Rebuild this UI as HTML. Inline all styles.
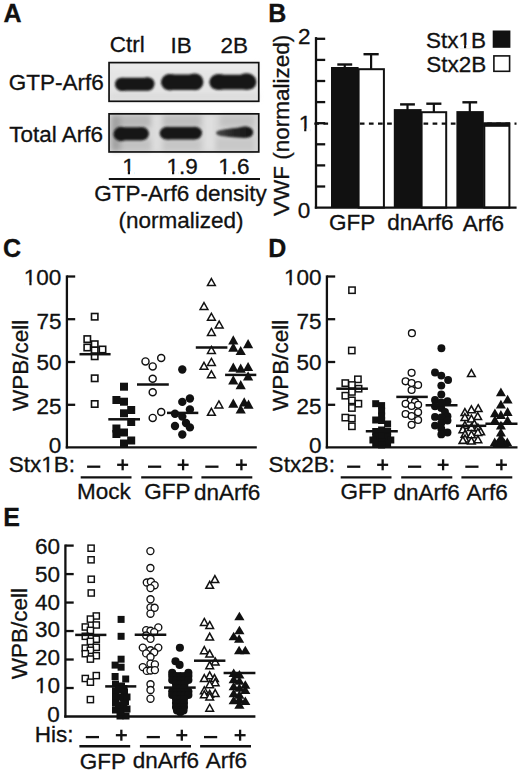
<!DOCTYPE html>
<html><head><meta charset="utf-8"><style>
html,body{margin:0;padding:0;background:#fff;width:520px;height:770px;overflow:hidden}
svg{display:block}
text{font-family:"Liberation Sans",sans-serif}
</style></head><body>
<svg width="520" height="770" viewBox="0 0 520 770">
<rect width="520" height="770" fill="#fff"/>
<defs><filter id="bl" x="-20%" y="-50%" width="140%" height="200%"><feGaussianBlur stdDeviation="1.0"/></filter><filter id="bl2" x="-30%" y="-30%" width="160%" height="160%"><feGaussianBlur stdDeviation="2.5"/></filter><linearGradient id="g3" x1="0" x2="1" y1="0" y2="0"><stop offset="0" stop-color="#4a4a4a"/><stop offset="0.45" stop-color="#262626"/><stop offset="1" stop-color="#131313"/></linearGradient></defs>
<g font-family="Liberation Sans, sans-serif" fill="#111" stroke-linejoin="miter">
<text transform="translate(3.42,21.98) scale(0.9700,1)" font-size="25.8" font-weight="bold" stroke="#111" stroke-width="0.3">A</text>
<text transform="translate(268.22,21.85) scale(0.9700,1)" font-size="25.8" font-weight="bold" stroke="#111" stroke-width="0.3">B</text>
<text transform="translate(3.12,257.30) scale(0.9700,1)" font-size="25.8" font-weight="bold" stroke="#111" stroke-width="0.3">C</text>
<text transform="translate(268.37,257.45) scale(0.9700,1)" font-size="25.8" font-weight="bold" stroke="#111" stroke-width="0.3">D</text>
<text transform="translate(3.19,526.05) scale(0.9700,1)" font-size="25.8" font-weight="bold" stroke="#111" stroke-width="0.3">E</text>
<text transform="translate(109.72,52.35) scale(1.0000,1)" font-size="22.5" font-weight="normal" stroke="#111" stroke-width="0.3">Ctrl</text>
<text transform="translate(170.62,52.76) scale(1.0000,1)" font-size="22.5" font-weight="normal" stroke="#111" stroke-width="0.3">IB</text>
<text transform="translate(220.47,52.88) scale(1.0000,1)" font-size="22.5" font-weight="normal" stroke="#111" stroke-width="0.3">2B</text>
<text transform="translate(8.86,90.35) scale(1.0000,1)" font-size="22.5" font-weight="normal" stroke="#111" stroke-width="0.3">GTP-Arf6</text>
<text transform="translate(9.23,141.55) scale(1.0000,1)" font-size="22.5" font-weight="normal" stroke="#111" stroke-width="0.3">Total Arf6</text>
<rect x="109.05" y="62.6" width="149.7" height="38.7" fill="#e5e5e5"/>
<g filter="url(#bl2)"><rect x="110" y="93" width="148" height="7" fill="#dcdcdc"/><rect x="110" y="64" width="148" height="5" fill="#ececec"/></g>
<g filter="url(#bl)" fill="#151515"><rect x="115.2" y="77.8" width="39" height="13" rx="6.2"/><ellipse cx="122.5" cy="84.4" rx="7.3" ry="6.6"/><ellipse cx="147.5" cy="83.5" rx="7" ry="6.3"/><rect x="161.2" y="74.6" width="42" height="15.4" rx="7.5"/><ellipse cx="170" cy="82.2" rx="8.8" ry="8.2"/><ellipse cx="194.5" cy="81.8" rx="8.8" ry="8.4"/><rect x="209.5" y="74.8" width="46.7" height="14.7" rx="7.2"/><ellipse cx="219" cy="82" rx="9.5" ry="7.9"/><ellipse cx="246.5" cy="81.5" rx="9.8" ry="8.3"/></g>
<rect x="109.05" y="62.6" width="149.7" height="38.7" fill="none" stroke="#111" stroke-width="1.7"/>
<rect x="109.05" y="113.85" width="149.7" height="38.1" fill="#d6d6d6"/>
<g filter="url(#bl2)"><rect x="111" y="115" width="10" height="36" fill="#8c8c8c" opacity="0.7"/><rect x="121" y="115" width="30" height="12" fill="#b8b8b8"/><rect x="163" y="115" width="38" height="12" fill="#bdbdbd"/><rect x="220" y="115" width="34" height="12" fill="#c2c2c2"/><rect x="121" y="139" width="30" height="12" fill="#c2c2c2"/><rect x="163" y="139" width="38" height="12" fill="#c6c6c6"/><rect x="216" y="138" width="38" height="13" fill="#c8c8c8"/><rect x="153" y="115" width="7" height="36" fill="#dedede"/><rect x="205" y="115" width="9" height="36" fill="#e0e0e0"/></g>
<g filter="url(#bl)" fill="#141414"><ellipse cx="121" cy="134" rx="7.6" ry="7.2"/><ellipse cx="142" cy="133.6" rx="7" ry="6.6"/><rect x="121" y="127.2" width="21" height="13.2"/><ellipse cx="167" cy="133.2" rx="7.3" ry="6.4"/><ellipse cx="195" cy="133" rx="7" ry="6.3"/><rect x="167" y="126.9" width="28" height="12.6"/></g>
<g filter="url(#bl)"><path fill="url(#g3)" d="M216,133 C216,129.6 226,128.9 236,127.9 L244,126.6 C250,126.3 253.2,129 253.2,132.3 C253.2,136 250,138.3 244,138 L236,137.4 C226,136.7 216,136.3 216,133 Z"/></g>
<rect x="109.05" y="113.85" width="149.7" height="38.1" fill="none" stroke="#111" stroke-width="1.7"/>
<g transform="translate(122.31,173.96) scale(1.0000,1)"><text font-size="22.5" font-weight="normal" stroke="#111" stroke-width="0.3">1</text><rect x="0.67" y="-2.65" width="4.84" height="3.78" fill="#fff"/><rect x="7.70" y="-2.65" width="4.50" height="3.78" fill="#fff"/></g>
<g transform="translate(166.51,173.96) scale(1.0000,1)"><text font-size="22.5" font-weight="normal" stroke="#111" stroke-width="0.3">1.9</text><rect x="0.67" y="-2.65" width="4.84" height="3.78" fill="#fff"/><rect x="7.70" y="-2.65" width="4.50" height="3.78" fill="#fff"/></g>
<g transform="translate(218.24,173.96) scale(1.0000,1)"><text font-size="22.5" font-weight="normal" stroke="#111" stroke-width="0.3">1.6</text><rect x="0.67" y="-2.65" width="4.84" height="3.78" fill="#fff"/><rect x="7.70" y="-2.65" width="4.50" height="3.78" fill="#fff"/></g>
<line x1="108.80" y1="179.00" x2="260.00" y2="179.00" stroke="#111" stroke-width="2.2" />
<text transform="translate(94.20,201.45) scale(1.0000,1)" font-size="22.5" font-weight="normal" stroke="#111" stroke-width="0.3">GTP-Arf6 density</text>
<text transform="translate(118.50,227.85) scale(1.0000,1)" font-size="22.5" font-weight="normal" stroke="#111" stroke-width="0.3">(normalized)</text>
<line x1="316.00" y1="37.10" x2="316.00" y2="208.60" stroke="#111" stroke-width="2.3" />
<line x1="316.00" y1="186.50" x2="325.20" y2="186.50" stroke="#111" stroke-width="2.3" />
<line x1="316.00" y1="165.40" x2="325.20" y2="165.40" stroke="#111" stroke-width="2.3" />
<line x1="316.00" y1="144.30" x2="325.20" y2="144.30" stroke="#111" stroke-width="2.3" />
<line x1="316.00" y1="123.20" x2="325.20" y2="123.20" stroke="#111" stroke-width="2.3" />
<line x1="316.00" y1="102.10" x2="325.20" y2="102.10" stroke="#111" stroke-width="2.3" />
<line x1="316.00" y1="81.00" x2="325.20" y2="81.00" stroke="#111" stroke-width="2.3" />
<line x1="316.00" y1="59.90" x2="325.20" y2="59.90" stroke="#111" stroke-width="2.3" />
<line x1="316.00" y1="38.80" x2="325.20" y2="38.80" stroke="#111" stroke-width="2.3" />
<text transform="translate(297.90,44.23) scale(1.0000,1)" font-size="22.5" font-weight="normal" stroke="#111" stroke-width="0.3">2</text>
<g transform="translate(298.66,131.31) scale(1.0000,1)"><text font-size="22.5" font-weight="normal" stroke="#111" stroke-width="0.3">1</text><rect x="0.67" y="-2.65" width="4.84" height="3.78" fill="#fff"/><rect x="7.70" y="-2.65" width="4.50" height="3.78" fill="#fff"/></g>
<text transform="translate(297.85,218.01) scale(1.0000,1)" font-size="22.5" font-weight="normal" stroke="#111" stroke-width="0.3">0</text>
<text transform="translate(289.05,216.05) rotate(-90) scale(1.0000,1)" font-size="22.5" stroke="#111" stroke-width="0.3">VWF (normalized)</text>
<line x1="314.30" y1="123.60" x2="516.50" y2="123.60" stroke="#111" stroke-width="2.2" stroke-dasharray="4.7 4.4"/>
<line x1="344.75" y1="64.50" x2="344.75" y2="68.00" stroke="#111" stroke-width="2.2" />
<line x1="337.30" y1="64.50" x2="352.20" y2="64.50" stroke="#111" stroke-width="2.4" />
<rect x="331" y="67" width="27.60" height="140.60" fill="#111"/>
<line x1="371.10" y1="54.20" x2="371.10" y2="69.20" stroke="#111" stroke-width="2.2" />
<line x1="363.50" y1="54.20" x2="378.70" y2="54.20" stroke="#111" stroke-width="2.4" />
<rect x="358.6" y="69.2" width="25.30" height="138.40" fill="none" stroke="#111" stroke-width="2"/>
<line x1="407.50" y1="104.40" x2="407.50" y2="110.10" stroke="#111" stroke-width="2.2" />
<line x1="400.10" y1="104.40" x2="414.90" y2="104.40" stroke="#111" stroke-width="2.4" />
<rect x="393.8" y="109.1" width="27.80" height="98.50" fill="#111"/>
<line x1="433.85" y1="103.70" x2="433.85" y2="112.20" stroke="#111" stroke-width="2.2" />
<line x1="426.30" y1="103.70" x2="441.40" y2="103.70" stroke="#111" stroke-width="2.4" />
<rect x="421.6" y="112.2" width="24.60" height="95.40" fill="none" stroke="#111" stroke-width="2"/>
<line x1="469.80" y1="102.30" x2="469.80" y2="112.10" stroke="#111" stroke-width="2.2" />
<line x1="462.40" y1="102.30" x2="477.20" y2="102.30" stroke="#111" stroke-width="2.4" />
<rect x="456.4" y="111.1" width="27.40" height="96.50" fill="#111"/>
<rect x="484.3" y="123.5" width="25.1" height="84.1" fill="none" stroke="#111" stroke-width="2"/>
<rect x="483.3" y="122.5" width="26.6" height="4.3" fill="#111"/>
<line x1="314.80" y1="207.60" x2="516.60" y2="207.60" stroke="#111" stroke-width="2.4" />
<text transform="translate(328.89,229.86) scale(1.0000,1)" font-size="22.5" font-weight="normal" stroke="#111" stroke-width="0.3">GFP</text>
<text transform="translate(387.18,230.00) scale(1.0000,1)" font-size="22.5" font-weight="normal" stroke="#111" stroke-width="0.3">dnArf6</text>
<text transform="translate(462.86,230.50) scale(1.0000,1)" font-size="22.5" font-weight="normal" stroke="#111" stroke-width="0.3">Arf6</text>
<g transform="translate(425.97,47.61) scale(1.0000,1)"><text font-size="22.5" font-weight="normal" stroke="#111" stroke-width="0.3">Stx1B</text><rect x="33.19" y="-2.65" width="4.84" height="3.78" fill="#fff"/><rect x="40.21" y="-2.65" width="4.50" height="3.78" fill="#fff"/></g>
<text transform="translate(426.22,71.81) scale(1.0000,1)" font-size="22.5" font-weight="normal" stroke="#111" stroke-width="0.3">Stx2B</text>
<rect x="492.7" y="30.5" width="17.7" height="17.3" fill="#111"/>
<rect x="493.9" y="55.9" width="15.7" height="15.4" fill="#fff" stroke="#111" stroke-width="1.6"/>
<line x1="66.90" y1="275.40" x2="66.90" y2="448.40" stroke="#111" stroke-width="2.3" />
<line x1="66.90" y1="276.50" x2="75.20" y2="276.50" stroke="#111" stroke-width="2.3" />
<line x1="66.90" y1="319.20" x2="75.20" y2="319.20" stroke="#111" stroke-width="2.3" />
<line x1="66.90" y1="362.00" x2="75.20" y2="362.00" stroke="#111" stroke-width="2.3" />
<line x1="66.90" y1="404.80" x2="75.20" y2="404.80" stroke="#111" stroke-width="2.3" />
<g transform="translate(23.83,285.06) scale(1.0000,1)"><text font-size="22.5" font-weight="normal" stroke="#111" stroke-width="0.3">100</text><rect x="0.67" y="-2.65" width="4.84" height="3.78" fill="#fff"/><rect x="7.70" y="-2.65" width="4.50" height="3.78" fill="#fff"/></g>
<text transform="translate(36.42,328.95) scale(1.0000,1)" font-size="22.5" font-weight="normal" stroke="#111" stroke-width="0.3">75</text>
<text transform="translate(36.42,369.86) scale(1.0000,1)" font-size="22.5" font-weight="normal" stroke="#111" stroke-width="0.3">50</text>
<text transform="translate(36.42,413.76) scale(1.0000,1)" font-size="22.5" font-weight="normal" stroke="#111" stroke-width="0.3">25</text>
<text transform="translate(48.80,452.76) scale(1.0000,1)" font-size="22.5" font-weight="normal" stroke="#111" stroke-width="0.3">0</text>
<line x1="65.75" y1="447.30" x2="256.80" y2="447.30" stroke="#111" stroke-width="2.3" />
<text transform="translate(28.00,411.10) rotate(-90) scale(1.0000,1)" font-size="22.5" stroke="#111" stroke-width="0.3">WPB/cell</text>
<rect x="91.50" y="313.50" width="6.40" height="6.40" fill="#fff" stroke="#111" stroke-width="1.6"/>
<rect x="84.10" y="335.90" width="6.40" height="6.40" fill="#fff" stroke="#111" stroke-width="1.6"/>
<rect x="91.50" y="341.00" width="6.40" height="6.40" fill="#fff" stroke="#111" stroke-width="1.6"/>
<rect x="84.10" y="344.30" width="6.40" height="6.40" fill="#fff" stroke="#111" stroke-width="1.6"/>
<rect x="99.30" y="346.30" width="6.40" height="6.40" fill="#fff" stroke="#111" stroke-width="1.6"/>
<rect x="91.50" y="347.20" width="6.40" height="6.40" fill="#fff" stroke="#111" stroke-width="1.6"/>
<rect x="91.50" y="353.10" width="6.40" height="6.40" fill="#fff" stroke="#111" stroke-width="1.6"/>
<rect x="91.50" y="375.10" width="6.40" height="6.40" fill="#fff" stroke="#111" stroke-width="1.6"/>
<rect x="91.50" y="400.80" width="6.40" height="6.40" fill="#fff" stroke="#111" stroke-width="1.6"/>
<line x1="79.50" y1="354.20" x2="110.60" y2="354.20" stroke="#111" stroke-width="2.5" />
<rect x="120.00" y="382.70" width="8.00" height="8.00" fill="#111"/>
<rect x="112.40" y="396.00" width="8.00" height="8.00" fill="#111"/>
<rect x="120.00" y="397.70" width="8.00" height="8.00" fill="#111"/>
<rect x="127.20" y="406.00" width="8.00" height="8.00" fill="#111"/>
<rect x="120.00" y="409.30" width="8.00" height="8.00" fill="#111"/>
<rect x="127.20" y="418.00" width="8.00" height="8.00" fill="#111"/>
<rect x="112.40" y="424.50" width="8.00" height="8.00" fill="#111"/>
<rect x="120.00" y="428.50" width="8.00" height="8.00" fill="#111"/>
<rect x="112.40" y="430.00" width="8.00" height="8.00" fill="#111"/>
<rect x="127.20" y="436.50" width="8.00" height="8.00" fill="#111"/>
<rect x="120.00" y="439.50" width="8.00" height="8.00" fill="#111"/>
<line x1="108.30" y1="419.30" x2="140.00" y2="419.30" stroke="#111" stroke-width="2.5" />
<circle cx="145.50" cy="361.40" r="3.52" fill="#fff" stroke="#111" stroke-width="1.45"/>
<circle cx="152.70" cy="366.40" r="3.52" fill="#fff" stroke="#111" stroke-width="1.45"/>
<circle cx="161.20" cy="358.00" r="3.52" fill="#fff" stroke="#111" stroke-width="1.45"/>
<circle cx="152.70" cy="378.80" r="3.52" fill="#fff" stroke="#111" stroke-width="1.45"/>
<circle cx="152.70" cy="392.30" r="3.52" fill="#fff" stroke="#111" stroke-width="1.45"/>
<circle cx="152.70" cy="417.90" r="3.52" fill="#fff" stroke="#111" stroke-width="1.45"/>
<circle cx="161.20" cy="412.00" r="3.52" fill="#fff" stroke="#111" stroke-width="1.45"/>
<line x1="137.00" y1="384.50" x2="168.80" y2="384.50" stroke="#111" stroke-width="2.5" />
<circle cx="182.30" cy="369.50" r="4.20" fill="#111"/>
<circle cx="189.90" cy="398.50" r="4.20" fill="#111"/>
<circle cx="182.30" cy="401.90" r="4.20" fill="#111"/>
<circle cx="189.90" cy="409.50" r="4.20" fill="#111"/>
<circle cx="175.00" cy="413.70" r="4.20" fill="#111"/>
<circle cx="182.30" cy="416.60" r="4.20" fill="#111"/>
<circle cx="186.00" cy="423.00" r="4.20" fill="#111"/>
<circle cx="175.00" cy="426.00" r="4.20" fill="#111"/>
<circle cx="189.90" cy="427.40" r="4.20" fill="#111"/>
<circle cx="182.30" cy="434.50" r="4.20" fill="#111"/>
<line x1="167.00" y1="412.90" x2="198.30" y2="412.90" stroke="#111" stroke-width="2.5" />
<polygon points="211.40,278.57 215.31,285.50 207.49,285.50" fill="#fff" stroke="#111" stroke-width="1.5"/>
<polygon points="204.00,302.57 207.91,309.50 200.09,309.50" fill="#fff" stroke="#111" stroke-width="1.5"/>
<polygon points="211.40,313.27 215.31,320.20 207.49,320.20" fill="#fff" stroke="#111" stroke-width="1.5"/>
<polygon points="219.20,321.07 223.11,328.00 215.29,328.00" fill="#fff" stroke="#111" stroke-width="1.5"/>
<polygon points="211.40,328.47 215.31,335.40 207.49,335.40" fill="#fff" stroke="#111" stroke-width="1.5"/>
<polygon points="211.40,346.47 215.31,353.40 207.49,353.40" fill="#fff" stroke="#111" stroke-width="1.5"/>
<polygon points="211.40,358.47 215.31,365.40 207.49,365.40" fill="#fff" stroke="#111" stroke-width="1.5"/>
<polygon points="204.00,362.37 207.91,369.30 200.09,369.30" fill="#fff" stroke="#111" stroke-width="1.5"/>
<polygon points="211.40,370.77 215.31,377.70 207.49,377.70" fill="#fff" stroke="#111" stroke-width="1.5"/>
<polygon points="218.90,400.97 222.81,407.90 214.99,407.90" fill="#fff" stroke="#111" stroke-width="1.5"/>
<polygon points="211.40,408.37 215.31,415.30 207.49,415.30" fill="#fff" stroke="#111" stroke-width="1.5"/>
<line x1="195.80" y1="347.60" x2="227.40" y2="347.60" stroke="#111" stroke-width="2.5" />
<polygon points="233.30,335.20 238.40,344.40 228.20,344.40" fill="#111"/>
<polygon points="248.10,339.10 253.20,348.30 243.00,348.30" fill="#111"/>
<polygon points="233.30,342.60 238.40,351.80 228.20,351.80" fill="#111"/>
<polygon points="240.70,345.90 245.80,355.10 235.60,355.10" fill="#111"/>
<polygon points="233.30,362.50 238.40,371.70 228.20,371.70" fill="#111"/>
<polygon points="240.70,363.50 245.80,372.70 235.60,372.70" fill="#111"/>
<polygon points="248.10,361.90 253.20,371.10 243.00,371.10" fill="#111"/>
<polygon points="248.10,371.30 253.20,380.50 243.00,380.50" fill="#111"/>
<polygon points="233.30,375.20 238.40,384.40 228.20,384.40" fill="#111"/>
<polygon points="240.70,380.00 245.80,389.20 235.60,389.20" fill="#111"/>
<polygon points="233.30,398.60 238.40,407.80 228.20,407.80" fill="#111"/>
<polygon points="244.20,397.20 249.30,406.40 239.10,406.40" fill="#111"/>
<polygon points="248.50,399.50 253.60,408.70 243.40,408.70" fill="#111"/>
<polygon points="240.70,404.40 245.80,413.60 235.60,413.60" fill="#111"/>
<line x1="225.10" y1="374.90" x2="256.30" y2="374.90" stroke="#111" stroke-width="2.5" />
<g transform="translate(8.73,472.41) scale(1.0000,1)"><text font-size="22.5" font-weight="normal" stroke="#111" stroke-width="0.3">Stx1B:</text><rect x="33.19" y="-2.65" width="4.84" height="3.78" fill="#fff"/><rect x="40.21" y="-2.65" width="4.50" height="3.78" fill="#fff"/></g>
<line x1="87.10" y1="466.70" x2="100.30" y2="466.70" stroke="#111" stroke-width="2.3" />
<line x1="148.00" y1="466.70" x2="161.20" y2="466.70" stroke="#111" stroke-width="2.3" />
<line x1="205.30" y1="466.70" x2="218.50" y2="466.70" stroke="#111" stroke-width="2.3" />
<line x1="117.15" y1="464.80" x2="128.15" y2="464.80" stroke="#111" stroke-width="2.3" />
<line x1="122.65" y1="459.30" x2="122.65" y2="470.30" stroke="#111" stroke-width="2.3" />
<line x1="177.60" y1="464.80" x2="188.60" y2="464.80" stroke="#111" stroke-width="2.3" />
<line x1="183.10" y1="459.30" x2="183.10" y2="470.30" stroke="#111" stroke-width="2.3" />
<line x1="235.90" y1="464.80" x2="246.90" y2="464.80" stroke="#111" stroke-width="2.3" />
<line x1="241.40" y1="459.30" x2="241.40" y2="470.30" stroke="#111" stroke-width="2.3" />
<line x1="80.70" y1="477.40" x2="131.50" y2="477.40" stroke="#111" stroke-width="2.4" />
<line x1="141.20" y1="477.40" x2="192.30" y2="477.40" stroke="#111" stroke-width="2.4" />
<line x1="201.40" y1="477.40" x2="252.30" y2="477.40" stroke="#111" stroke-width="2.4" />
<text transform="translate(76.91,499.35) scale(1.0000,1)" font-size="22.5" font-weight="normal" stroke="#111" stroke-width="0.3">Mock</text>
<text transform="translate(144.19,499.16) scale(1.0000,1)" font-size="22.5" font-weight="normal" stroke="#111" stroke-width="0.3">GFP</text>
<text transform="translate(194.07,500.10) scale(1.0000,1)" font-size="22.5" font-weight="normal" stroke="#111" stroke-width="0.3">dnArf6</text>
<line x1="326.90" y1="275.40" x2="326.90" y2="448.40" stroke="#111" stroke-width="2.3" />
<line x1="326.90" y1="276.50" x2="335.20" y2="276.50" stroke="#111" stroke-width="2.3" />
<line x1="326.90" y1="319.20" x2="335.20" y2="319.20" stroke="#111" stroke-width="2.3" />
<line x1="326.90" y1="362.00" x2="335.20" y2="362.00" stroke="#111" stroke-width="2.3" />
<line x1="326.90" y1="404.80" x2="335.20" y2="404.80" stroke="#111" stroke-width="2.3" />
<g transform="translate(283.93,285.06) scale(1.0000,1)"><text font-size="22.5" font-weight="normal" stroke="#111" stroke-width="0.3">100</text><rect x="0.67" y="-2.65" width="4.84" height="3.78" fill="#fff"/><rect x="7.70" y="-2.65" width="4.50" height="3.78" fill="#fff"/></g>
<text transform="translate(296.52,328.95) scale(1.0000,1)" font-size="22.5" font-weight="normal" stroke="#111" stroke-width="0.3">75</text>
<text transform="translate(296.53,369.86) scale(1.0000,1)" font-size="22.5" font-weight="normal" stroke="#111" stroke-width="0.3">50</text>
<text transform="translate(296.52,413.76) scale(1.0000,1)" font-size="22.5" font-weight="normal" stroke="#111" stroke-width="0.3">25</text>
<text transform="translate(308.90,452.76) scale(1.0000,1)" font-size="22.5" font-weight="normal" stroke="#111" stroke-width="0.3">0</text>
<line x1="325.75" y1="447.30" x2="517.50" y2="447.30" stroke="#111" stroke-width="2.3" />
<text transform="translate(288.00,411.10) rotate(-90) scale(1.0000,1)" font-size="22.5" stroke="#111" stroke-width="0.3">WPB/cell</text>
<rect x="348.85" y="287.05" width="6.30" height="6.30" fill="#fff" stroke="#111" stroke-width="1.5"/>
<rect x="348.65" y="347.35" width="6.30" height="6.30" fill="#fff" stroke="#111" stroke-width="1.5"/>
<rect x="354.75" y="376.15" width="6.30" height="6.30" fill="#fff" stroke="#111" stroke-width="1.5"/>
<rect x="342.15" y="379.95" width="6.30" height="6.30" fill="#fff" stroke="#111" stroke-width="1.5"/>
<rect x="348.75" y="381.85" width="6.30" height="6.30" fill="#fff" stroke="#111" stroke-width="1.5"/>
<rect x="355.45" y="385.55" width="6.30" height="6.30" fill="#fff" stroke="#111" stroke-width="1.5"/>
<rect x="348.75" y="388.75" width="6.30" height="6.30" fill="#fff" stroke="#111" stroke-width="1.5"/>
<rect x="342.15" y="392.55" width="6.30" height="6.30" fill="#fff" stroke="#111" stroke-width="1.5"/>
<rect x="348.75" y="397.25" width="6.30" height="6.30" fill="#fff" stroke="#111" stroke-width="1.5"/>
<rect x="355.25" y="400.55" width="6.30" height="6.30" fill="#fff" stroke="#111" stroke-width="1.5"/>
<rect x="348.75" y="404.85" width="6.30" height="6.30" fill="#fff" stroke="#111" stroke-width="1.5"/>
<rect x="342.15" y="414.45" width="6.30" height="6.30" fill="#fff" stroke="#111" stroke-width="1.5"/>
<rect x="348.75" y="415.35" width="6.30" height="6.30" fill="#fff" stroke="#111" stroke-width="1.5"/>
<rect x="348.75" y="423.15" width="6.30" height="6.30" fill="#fff" stroke="#111" stroke-width="1.5"/>
<line x1="336.30" y1="388.70" x2="367.90" y2="388.70" stroke="#111" stroke-width="2.5" />
<rect x="372.20" y="400.20" width="7.00" height="7.00" fill="#111"/>
<rect x="378.10" y="402.10" width="7.00" height="7.00" fill="#111"/>
<rect x="378.10" y="407.50" width="7.00" height="7.00" fill="#111"/>
<rect x="378.10" y="412.50" width="7.00" height="7.00" fill="#111"/>
<rect x="372.20" y="416.50" width="7.00" height="7.00" fill="#111"/>
<rect x="378.10" y="417.00" width="7.00" height="7.00" fill="#111"/>
<rect x="384.10" y="420.50" width="7.00" height="7.00" fill="#111"/>
<rect x="372.20" y="428.00" width="7.00" height="7.00" fill="#111"/>
<rect x="378.10" y="426.50" width="7.00" height="7.00" fill="#111"/>
<rect x="384.10" y="428.00" width="7.00" height="7.00" fill="#111"/>
<rect x="372.20" y="433.50" width="7.00" height="7.00" fill="#111"/>
<rect x="378.10" y="432.50" width="7.00" height="7.00" fill="#111"/>
<rect x="384.10" y="433.50" width="7.00" height="7.00" fill="#111"/>
<rect x="369.40" y="436.50" width="7.00" height="7.00" fill="#111"/>
<rect x="387.30" y="436.50" width="7.00" height="7.00" fill="#111"/>
<rect x="372.20" y="440.00" width="7.00" height="7.00" fill="#111"/>
<rect x="378.10" y="438.50" width="7.00" height="7.00" fill="#111"/>
<rect x="384.10" y="440.00" width="7.00" height="7.00" fill="#111"/>
<rect x="378.10" y="441.50" width="7.00" height="7.00" fill="#111"/>
<line x1="365.80" y1="431.30" x2="397.80" y2="431.30" stroke="#111" stroke-width="2.5" />
<circle cx="411.90" cy="333.20" r="3.42" fill="#fff" stroke="#111" stroke-width="1.35"/>
<circle cx="411.60" cy="372.80" r="3.42" fill="#fff" stroke="#111" stroke-width="1.35"/>
<circle cx="405.60" cy="381.30" r="3.42" fill="#fff" stroke="#111" stroke-width="1.35"/>
<circle cx="411.60" cy="383.10" r="3.42" fill="#fff" stroke="#111" stroke-width="1.35"/>
<circle cx="418.10" cy="385.00" r="3.42" fill="#fff" stroke="#111" stroke-width="1.35"/>
<circle cx="411.60" cy="390.00" r="3.42" fill="#fff" stroke="#111" stroke-width="1.35"/>
<circle cx="410.60" cy="400.60" r="3.42" fill="#fff" stroke="#111" stroke-width="1.35"/>
<circle cx="415.00" cy="401.90" r="3.42" fill="#fff" stroke="#111" stroke-width="1.35"/>
<circle cx="405.60" cy="403.80" r="3.42" fill="#fff" stroke="#111" stroke-width="1.35"/>
<circle cx="411.60" cy="406.00" r="3.42" fill="#fff" stroke="#111" stroke-width="1.35"/>
<circle cx="418.10" cy="404.80" r="3.42" fill="#fff" stroke="#111" stroke-width="1.35"/>
<circle cx="405.60" cy="414.00" r="3.42" fill="#fff" stroke="#111" stroke-width="1.35"/>
<circle cx="411.60" cy="416.00" r="3.42" fill="#fff" stroke="#111" stroke-width="1.35"/>
<circle cx="418.10" cy="412.30" r="3.42" fill="#fff" stroke="#111" stroke-width="1.35"/>
<circle cx="418.10" cy="420.00" r="3.42" fill="#fff" stroke="#111" stroke-width="1.35"/>
<circle cx="411.60" cy="424.80" r="3.42" fill="#fff" stroke="#111" stroke-width="1.35"/>
<line x1="396.30" y1="396.90" x2="427.80" y2="396.90" stroke="#111" stroke-width="2.5" />
<circle cx="441.40" cy="348.30" r="3.95" fill="#111"/>
<circle cx="435.00" cy="372.50" r="3.95" fill="#111"/>
<circle cx="441.30" cy="375.60" r="3.95" fill="#111"/>
<circle cx="448.10" cy="380.00" r="3.95" fill="#111"/>
<circle cx="441.30" cy="385.60" r="3.95" fill="#111"/>
<circle cx="441.30" cy="394.40" r="3.95" fill="#111"/>
<circle cx="435.00" cy="400.00" r="3.95" fill="#111"/>
<circle cx="447.50" cy="401.30" r="3.95" fill="#111"/>
<circle cx="441.30" cy="402.50" r="3.95" fill="#111"/>
<circle cx="435.00" cy="406.30" r="3.95" fill="#111"/>
<circle cx="441.30" cy="408.10" r="3.95" fill="#111"/>
<circle cx="445.00" cy="411.90" r="3.95" fill="#111"/>
<circle cx="447.50" cy="416.30" r="3.95" fill="#111"/>
<circle cx="435.00" cy="416.90" r="3.95" fill="#111"/>
<circle cx="441.30" cy="417.50" r="3.95" fill="#111"/>
<circle cx="447.50" cy="420.60" r="3.95" fill="#111"/>
<circle cx="435.00" cy="425.60" r="3.95" fill="#111"/>
<circle cx="441.30" cy="423.10" r="3.95" fill="#111"/>
<circle cx="441.30" cy="428.80" r="3.95" fill="#111"/>
<circle cx="447.50" cy="432.50" r="3.95" fill="#111"/>
<circle cx="441.30" cy="434.40" r="3.95" fill="#111"/>
<line x1="425.60" y1="405.30" x2="457.50" y2="405.30" stroke="#111" stroke-width="2.5" />
<polygon points="471.40,369.64 475.23,376.48 467.57,376.48" fill="#fff" stroke="#111" stroke-width="1.55"/>
<polygon points="478.20,404.74 482.03,411.57 474.37,411.57" fill="#fff" stroke="#111" stroke-width="1.55"/>
<polygon points="471.40,405.84 475.23,412.68 467.57,412.68" fill="#fff" stroke="#111" stroke-width="1.55"/>
<polygon points="464.90,408.64 468.73,415.48 461.07,415.48" fill="#fff" stroke="#111" stroke-width="1.55"/>
<polygon points="464.90,413.64 468.73,420.48 461.07,420.48" fill="#fff" stroke="#111" stroke-width="1.55"/>
<polygon points="477.70,412.64 481.53,419.48 473.87,419.48" fill="#fff" stroke="#111" stroke-width="1.55"/>
<polygon points="471.40,415.14 475.23,421.98 467.57,421.98" fill="#fff" stroke="#111" stroke-width="1.55"/>
<polygon points="464.90,421.54 468.73,428.38 461.07,428.38" fill="#fff" stroke="#111" stroke-width="1.55"/>
<polygon points="474.30,420.14 478.13,426.98 470.47,426.98" fill="#fff" stroke="#111" stroke-width="1.55"/>
<polygon points="462.90,425.84 466.73,432.68 459.07,432.68" fill="#fff" stroke="#111" stroke-width="1.55"/>
<polygon points="471.40,423.64 475.23,430.48 467.57,430.48" fill="#fff" stroke="#111" stroke-width="1.55"/>
<polygon points="477.90,424.04 481.73,430.88 474.07,430.88" fill="#fff" stroke="#111" stroke-width="1.55"/>
<polygon points="480.70,427.94 484.53,434.77 476.87,434.77" fill="#fff" stroke="#111" stroke-width="1.55"/>
<polygon points="477.90,428.64 481.73,435.48 474.07,435.48" fill="#fff" stroke="#111" stroke-width="1.55"/>
<polygon points="465.00,430.44 468.83,437.27 461.17,437.27" fill="#fff" stroke="#111" stroke-width="1.55"/>
<polygon points="471.40,430.84 475.23,437.68 467.57,437.68" fill="#fff" stroke="#111" stroke-width="1.55"/>
<polygon points="465.00,435.14 468.83,441.98 461.17,441.98" fill="#fff" stroke="#111" stroke-width="1.55"/>
<polygon points="471.40,437.24 475.23,444.07 467.57,444.07" fill="#fff" stroke="#111" stroke-width="1.55"/>
<polygon points="477.90,435.84 481.73,442.68 474.07,442.68" fill="#fff" stroke="#111" stroke-width="1.55"/>
<polygon points="462.90,436.54 466.73,443.38 459.07,443.38" fill="#fff" stroke="#111" stroke-width="1.55"/>
<line x1="456.00" y1="425.80" x2="486.30" y2="425.80" stroke="#111" stroke-width="2.5" />
<polygon points="500.90,387.50 505.90,396.30 495.90,396.30" fill="#111"/>
<polygon points="507.60,394.70 512.60,403.50 502.60,403.50" fill="#111"/>
<polygon points="500.90,399.80 505.90,408.60 495.90,408.60" fill="#111"/>
<polygon points="494.90,408.50 499.90,417.30 489.90,417.30" fill="#111"/>
<polygon points="507.60,407.10 512.60,415.90 502.60,415.90" fill="#111"/>
<polygon points="500.90,410.10 505.90,418.90 495.90,418.90" fill="#111"/>
<polygon points="494.90,415.50 499.90,424.30 489.90,424.30" fill="#111"/>
<polygon points="507.60,415.50 512.60,424.30 502.60,424.30" fill="#111"/>
<polygon points="500.90,420.80 505.90,429.60 495.90,429.60" fill="#111"/>
<polygon points="500.90,427.80 505.90,436.60 495.90,436.60" fill="#111"/>
<polygon points="494.70,437.50 499.70,446.30 489.70,446.30" fill="#111"/>
<polygon points="507.30,437.50 512.30,446.30 502.30,446.30" fill="#111"/>
<polygon points="497.50,438.50 502.50,447.30 492.50,447.30" fill="#111"/>
<polygon points="504.30,438.50 509.30,447.30 499.30,447.30" fill="#111"/>
<polygon points="500.90,433.00 505.90,441.80 495.90,441.80" fill="#111"/>
<polygon points="500.90,437.70 505.90,446.50 495.90,446.50" fill="#111"/>
<line x1="485.40" y1="423.70" x2="517.50" y2="423.70" stroke="#111" stroke-width="2.5" />
<text transform="translate(268.62,472.26) scale(1.0000,1)" font-size="22.5" font-weight="normal" stroke="#111" stroke-width="0.3">Stx2B:</text>
<line x1="347.10" y1="466.70" x2="360.30" y2="466.70" stroke="#111" stroke-width="2.3" />
<line x1="408.00" y1="466.70" x2="421.20" y2="466.70" stroke="#111" stroke-width="2.3" />
<line x1="465.30" y1="466.70" x2="478.50" y2="466.70" stroke="#111" stroke-width="2.3" />
<line x1="377.15" y1="464.80" x2="388.15" y2="464.80" stroke="#111" stroke-width="2.3" />
<line x1="382.65" y1="459.30" x2="382.65" y2="470.30" stroke="#111" stroke-width="2.3" />
<line x1="437.60" y1="464.80" x2="448.60" y2="464.80" stroke="#111" stroke-width="2.3" />
<line x1="443.10" y1="459.30" x2="443.10" y2="470.30" stroke="#111" stroke-width="2.3" />
<line x1="495.90" y1="464.80" x2="506.90" y2="464.80" stroke="#111" stroke-width="2.3" />
<line x1="501.40" y1="459.30" x2="501.40" y2="470.30" stroke="#111" stroke-width="2.3" />
<line x1="340.70" y1="477.40" x2="391.50" y2="477.40" stroke="#111" stroke-width="2.4" />
<line x1="401.20" y1="477.40" x2="452.30" y2="477.40" stroke="#111" stroke-width="2.4" />
<line x1="461.40" y1="477.40" x2="512.30" y2="477.40" stroke="#111" stroke-width="2.4" />
<text transform="translate(340.44,499.14) scale(1.0000,1)" font-size="22.5" font-weight="normal" stroke="#111" stroke-width="0.3">GFP</text>
<text transform="translate(393.43,500.10) scale(1.0000,1)" font-size="22.5" font-weight="normal" stroke="#111" stroke-width="0.3">dnArf6</text>
<text transform="translate(466.61,500.00) scale(1.0000,1)" font-size="22.5" font-weight="normal" stroke="#111" stroke-width="0.3">Arf6</text>
<line x1="65.40" y1="544.50" x2="65.40" y2="717.58" stroke="#111" stroke-width="2.3" />
<line x1="65.40" y1="545.60" x2="73.70" y2="545.60" stroke="#111" stroke-width="2.3" />
<line x1="65.40" y1="574.08" x2="73.70" y2="574.08" stroke="#111" stroke-width="2.3" />
<line x1="65.40" y1="602.56" x2="73.70" y2="602.56" stroke="#111" stroke-width="2.3" />
<line x1="65.40" y1="631.04" x2="73.70" y2="631.04" stroke="#111" stroke-width="2.3" />
<line x1="65.40" y1="659.52" x2="73.70" y2="659.52" stroke="#111" stroke-width="2.3" />
<line x1="65.40" y1="688.00" x2="73.70" y2="688.00" stroke="#111" stroke-width="2.3" />
<text transform="translate(34.92,554.06) scale(1.0000,1)" font-size="22.5" font-weight="normal" stroke="#111" stroke-width="0.3">60</text>
<text transform="translate(34.92,582.16) scale(1.0000,1)" font-size="22.5" font-weight="normal" stroke="#111" stroke-width="0.3">50</text>
<text transform="translate(34.92,609.56) scale(1.0000,1)" font-size="22.5" font-weight="normal" stroke="#111" stroke-width="0.3">40</text>
<text transform="translate(34.92,637.26) scale(1.0000,1)" font-size="22.5" font-weight="normal" stroke="#111" stroke-width="0.3">30</text>
<text transform="translate(34.92,665.46) scale(1.0000,1)" font-size="22.5" font-weight="normal" stroke="#111" stroke-width="0.3">20</text>
<g transform="translate(34.92,693.46) scale(1.0000,1)"><text font-size="22.5" font-weight="normal" stroke="#111" stroke-width="0.3">10</text><rect x="0.67" y="-2.65" width="4.84" height="3.78" fill="#fff"/><rect x="7.70" y="-2.65" width="4.50" height="3.78" fill="#fff"/></g>
<text transform="translate(47.30,721.86) scale(1.0000,1)" font-size="22.5" font-weight="normal" stroke="#111" stroke-width="0.3">0</text>
<line x1="64.25" y1="716.48" x2="255.40" y2="716.48" stroke="#111" stroke-width="2.3" />
<text transform="translate(26.50,679.30) rotate(-90) scale(1.0000,1)" font-size="22.5" stroke="#111" stroke-width="0.3">WPB/cell</text>
<rect x="88.02" y="545.12" width="6.15" height="6.15" fill="#fff" stroke="#111" stroke-width="1.45"/>
<rect x="88.02" y="556.72" width="6.15" height="6.15" fill="#fff" stroke="#111" stroke-width="1.45"/>
<rect x="88.17" y="576.17" width="6.15" height="6.15" fill="#fff" stroke="#111" stroke-width="1.45"/>
<rect x="88.17" y="589.92" width="6.15" height="6.15" fill="#fff" stroke="#111" stroke-width="1.45"/>
<rect x="93.22" y="612.92" width="6.15" height="6.15" fill="#fff" stroke="#111" stroke-width="1.45"/>
<rect x="87.33" y="616.02" width="6.15" height="6.15" fill="#fff" stroke="#111" stroke-width="1.45"/>
<rect x="93.22" y="621.92" width="6.15" height="6.15" fill="#fff" stroke="#111" stroke-width="1.45"/>
<rect x="82.22" y="623.92" width="6.15" height="6.15" fill="#fff" stroke="#111" stroke-width="1.45"/>
<rect x="87.33" y="627.32" width="6.15" height="6.15" fill="#fff" stroke="#111" stroke-width="1.45"/>
<rect x="82.22" y="633.22" width="6.15" height="6.15" fill="#fff" stroke="#111" stroke-width="1.45"/>
<rect x="93.22" y="636.12" width="6.15" height="6.15" fill="#fff" stroke="#111" stroke-width="1.45"/>
<rect x="87.33" y="638.32" width="6.15" height="6.15" fill="#fff" stroke="#111" stroke-width="1.45"/>
<rect x="93.22" y="644.22" width="6.15" height="6.15" fill="#fff" stroke="#111" stroke-width="1.45"/>
<rect x="82.22" y="645.02" width="6.15" height="6.15" fill="#fff" stroke="#111" stroke-width="1.45"/>
<rect x="87.33" y="647.22" width="6.15" height="6.15" fill="#fff" stroke="#111" stroke-width="1.45"/>
<rect x="82.22" y="650.62" width="6.15" height="6.15" fill="#fff" stroke="#111" stroke-width="1.45"/>
<rect x="93.22" y="652.62" width="6.15" height="6.15" fill="#fff" stroke="#111" stroke-width="1.45"/>
<rect x="87.33" y="656.02" width="6.15" height="6.15" fill="#fff" stroke="#111" stroke-width="1.45"/>
<rect x="93.22" y="672.52" width="6.15" height="6.15" fill="#fff" stroke="#111" stroke-width="1.45"/>
<rect x="82.22" y="675.42" width="6.15" height="6.15" fill="#fff" stroke="#111" stroke-width="1.45"/>
<rect x="87.33" y="679.12" width="6.15" height="6.15" fill="#fff" stroke="#111" stroke-width="1.45"/>
<rect x="87.33" y="696.52" width="6.15" height="6.15" fill="#fff" stroke="#111" stroke-width="1.45"/>
<line x1="75.20" y1="634.90" x2="106.40" y2="634.90" stroke="#111" stroke-width="2.5" />
<rect x="117.60" y="615.90" width="7.00" height="7.00" fill="#111"/>
<rect x="117.60" y="632.80" width="7.00" height="7.00" fill="#111"/>
<rect x="117.60" y="655.70" width="7.00" height="7.00" fill="#111"/>
<rect x="111.60" y="661.60" width="7.00" height="7.00" fill="#111"/>
<rect x="117.60" y="663.70" width="7.00" height="7.00" fill="#111"/>
<rect x="111.60" y="673.00" width="7.00" height="7.00" fill="#111"/>
<rect x="122.20" y="675.50" width="7.00" height="7.00" fill="#111"/>
<rect x="112.00" y="680.50" width="7.00" height="7.00" fill="#111"/>
<rect x="118.00" y="682.50" width="7.00" height="7.00" fill="#111"/>
<rect x="120.50" y="685.00" width="7.00" height="7.00" fill="#111"/>
<rect x="112.00" y="687.50" width="7.00" height="7.00" fill="#111"/>
<rect x="112.00" y="693.50" width="7.00" height="7.00" fill="#111"/>
<rect x="119.50" y="694.50" width="7.00" height="7.00" fill="#111"/>
<rect x="122.00" y="698.00" width="7.00" height="7.00" fill="#111"/>
<rect x="112.00" y="699.50" width="7.00" height="7.00" fill="#111"/>
<rect x="118.50" y="705.00" width="7.00" height="7.00" fill="#111"/>
<rect x="112.00" y="706.50" width="7.00" height="7.00" fill="#111"/>
<rect x="116.50" y="712.50" width="7.00" height="7.00" fill="#111"/>
<rect x="122.50" y="712.50" width="7.00" height="7.00" fill="#111"/>
<rect x="115.00" y="686.50" width="7.00" height="7.00" fill="#111"/>
<rect x="121.00" y="688.50" width="7.00" height="7.00" fill="#111"/>
<rect x="117.50" y="693.50" width="7.00" height="7.00" fill="#111"/>
<rect x="123.50" y="693.50" width="7.00" height="7.00" fill="#111"/>
<rect x="115.00" y="701.50" width="7.00" height="7.00" fill="#111"/>
<rect x="120.50" y="700.50" width="7.00" height="7.00" fill="#111"/>
<rect x="117.50" y="708.50" width="7.00" height="7.00" fill="#111"/>
<rect x="123.50" y="705.50" width="7.00" height="7.00" fill="#111"/>
<line x1="105.20" y1="686.40" x2="136.30" y2="686.40" stroke="#111" stroke-width="2.5" />
<circle cx="150.40" cy="551.10" r="3.53" fill="#fff" stroke="#111" stroke-width="1.35"/>
<circle cx="150.40" cy="568.00" r="3.53" fill="#fff" stroke="#111" stroke-width="1.35"/>
<circle cx="146.80" cy="582.50" r="3.53" fill="#fff" stroke="#111" stroke-width="1.35"/>
<circle cx="150.90" cy="581.80" r="3.53" fill="#fff" stroke="#111" stroke-width="1.35"/>
<circle cx="154.60" cy="585.20" r="3.53" fill="#fff" stroke="#111" stroke-width="1.35"/>
<circle cx="150.50" cy="588.10" r="3.53" fill="#fff" stroke="#111" stroke-width="1.35"/>
<circle cx="150.50" cy="599.30" r="3.53" fill="#fff" stroke="#111" stroke-width="1.35"/>
<circle cx="150.50" cy="607.40" r="3.53" fill="#fff" stroke="#111" stroke-width="1.35"/>
<circle cx="154.60" cy="607.80" r="3.53" fill="#fff" stroke="#111" stroke-width="1.35"/>
<circle cx="150.50" cy="613.70" r="3.53" fill="#fff" stroke="#111" stroke-width="1.35"/>
<circle cx="158.30" cy="627.40" r="3.53" fill="#fff" stroke="#111" stroke-width="1.35"/>
<circle cx="146.20" cy="630.10" r="3.53" fill="#fff" stroke="#111" stroke-width="1.35"/>
<circle cx="150.50" cy="630.80" r="3.53" fill="#fff" stroke="#111" stroke-width="1.35"/>
<circle cx="154.20" cy="632.10" r="3.53" fill="#fff" stroke="#111" stroke-width="1.35"/>
<circle cx="146.20" cy="635.50" r="3.53" fill="#fff" stroke="#111" stroke-width="1.35"/>
<circle cx="150.50" cy="638.80" r="3.53" fill="#fff" stroke="#111" stroke-width="1.35"/>
<circle cx="142.80" cy="647.60" r="3.53" fill="#fff" stroke="#111" stroke-width="1.35"/>
<circle cx="158.30" cy="647.60" r="3.53" fill="#fff" stroke="#111" stroke-width="1.35"/>
<circle cx="150.50" cy="650.30" r="3.53" fill="#fff" stroke="#111" stroke-width="1.35"/>
<circle cx="146.20" cy="653.40" r="3.53" fill="#fff" stroke="#111" stroke-width="1.35"/>
<circle cx="154.20" cy="652.30" r="3.53" fill="#fff" stroke="#111" stroke-width="1.35"/>
<circle cx="150.50" cy="657.00" r="3.53" fill="#fff" stroke="#111" stroke-width="1.35"/>
<circle cx="150.50" cy="663.70" r="3.53" fill="#fff" stroke="#111" stroke-width="1.35"/>
<circle cx="154.90" cy="664.40" r="3.53" fill="#fff" stroke="#111" stroke-width="1.35"/>
<circle cx="142.80" cy="667.10" r="3.53" fill="#fff" stroke="#111" stroke-width="1.35"/>
<circle cx="146.80" cy="670.90" r="3.53" fill="#fff" stroke="#111" stroke-width="1.35"/>
<circle cx="150.50" cy="670.50" r="3.53" fill="#fff" stroke="#111" stroke-width="1.35"/>
<circle cx="154.90" cy="670.10" r="3.53" fill="#fff" stroke="#111" stroke-width="1.35"/>
<circle cx="150.50" cy="684.30" r="3.53" fill="#fff" stroke="#111" stroke-width="1.35"/>
<circle cx="150.50" cy="690.00" r="3.53" fill="#fff" stroke="#111" stroke-width="1.35"/>
<circle cx="150.50" cy="698.70" r="3.53" fill="#fff" stroke="#111" stroke-width="1.35"/>
<line x1="134.70" y1="634.80" x2="166.30" y2="634.80" stroke="#111" stroke-width="2.5" />
<circle cx="179.90" cy="647.80" r="4.05" fill="#111"/>
<circle cx="175.50" cy="661.30" r="4.05" fill="#111"/>
<circle cx="179.60" cy="664.90" r="4.05" fill="#111"/>
<circle cx="172.20" cy="672.70" r="4.05" fill="#111"/>
<circle cx="188.40" cy="672.70" r="4.05" fill="#111"/>
<circle cx="172.20" cy="676.00" r="4.05" fill="#111"/>
<circle cx="176.50" cy="676.00" r="4.05" fill="#111"/>
<circle cx="180.30" cy="676.00" r="4.05" fill="#111"/>
<circle cx="184.30" cy="676.00" r="4.05" fill="#111"/>
<circle cx="188.40" cy="676.00" r="4.05" fill="#111"/>
<circle cx="172.20" cy="680.00" r="4.05" fill="#111"/>
<circle cx="176.50" cy="680.00" r="4.05" fill="#111"/>
<circle cx="180.30" cy="680.00" r="4.05" fill="#111"/>
<circle cx="184.30" cy="680.00" r="4.05" fill="#111"/>
<circle cx="188.40" cy="680.00" r="4.05" fill="#111"/>
<circle cx="176.00" cy="684.00" r="4.05" fill="#111"/>
<circle cx="180.30" cy="684.00" r="4.05" fill="#111"/>
<circle cx="184.50" cy="684.00" r="4.05" fill="#111"/>
<circle cx="176.00" cy="688.00" r="4.05" fill="#111"/>
<circle cx="180.30" cy="688.00" r="4.05" fill="#111"/>
<circle cx="184.50" cy="688.00" r="4.05" fill="#111"/>
<circle cx="172.20" cy="691.50" r="4.05" fill="#111"/>
<circle cx="176.50" cy="691.50" r="4.05" fill="#111"/>
<circle cx="180.30" cy="691.50" r="4.05" fill="#111"/>
<circle cx="184.30" cy="691.50" r="4.05" fill="#111"/>
<circle cx="188.40" cy="691.50" r="4.05" fill="#111"/>
<circle cx="172.20" cy="695.00" r="4.05" fill="#111"/>
<circle cx="176.50" cy="695.00" r="4.05" fill="#111"/>
<circle cx="180.30" cy="695.00" r="4.05" fill="#111"/>
<circle cx="184.30" cy="695.00" r="4.05" fill="#111"/>
<circle cx="188.40" cy="695.00" r="4.05" fill="#111"/>
<circle cx="176.00" cy="699.00" r="4.05" fill="#111"/>
<circle cx="180.30" cy="699.00" r="4.05" fill="#111"/>
<circle cx="184.00" cy="699.00" r="4.05" fill="#111"/>
<circle cx="176.00" cy="703.00" r="4.05" fill="#111"/>
<circle cx="180.30" cy="703.00" r="4.05" fill="#111"/>
<circle cx="184.00" cy="703.00" r="4.05" fill="#111"/>
<circle cx="176.00" cy="707.00" r="4.05" fill="#111"/>
<circle cx="180.30" cy="707.00" r="4.05" fill="#111"/>
<circle cx="184.00" cy="707.00" r="4.05" fill="#111"/>
<circle cx="177.00" cy="710.50" r="4.05" fill="#111"/>
<circle cx="180.30" cy="710.50" r="4.05" fill="#111"/>
<circle cx="183.50" cy="710.50" r="4.05" fill="#111"/>
<circle cx="180.30" cy="712.30" r="4.05" fill="#111"/>
<line x1="164.00" y1="687.60" x2="195.70" y2="687.60" stroke="#111" stroke-width="2.5" />
<polygon points="214.90,575.56 218.73,582.55 211.07,582.55" fill="#fff" stroke="#111" stroke-width="1.5"/>
<polygon points="209.70,581.36 213.53,588.35 205.87,588.35" fill="#fff" stroke="#111" stroke-width="1.5"/>
<polygon points="204.30,618.46 208.13,625.45 200.47,625.45" fill="#fff" stroke="#111" stroke-width="1.5"/>
<polygon points="209.70,621.46 213.53,628.45 205.87,628.45" fill="#fff" stroke="#111" stroke-width="1.5"/>
<polygon points="209.70,633.06 213.53,640.05 205.87,640.05" fill="#fff" stroke="#111" stroke-width="1.5"/>
<polygon points="204.30,646.66 208.13,653.65 200.47,653.65" fill="#fff" stroke="#111" stroke-width="1.5"/>
<polygon points="209.70,650.06 213.53,657.05 205.87,657.05" fill="#fff" stroke="#111" stroke-width="1.5"/>
<polygon points="215.20,657.96 219.03,664.95 211.37,664.95" fill="#fff" stroke="#111" stroke-width="1.5"/>
<polygon points="209.70,661.66 213.53,668.65 205.87,668.65" fill="#fff" stroke="#111" stroke-width="1.5"/>
<polygon points="209.70,671.86 213.53,678.85 205.87,678.85" fill="#fff" stroke="#111" stroke-width="1.5"/>
<polygon points="204.30,674.56 208.13,681.55 200.47,681.55" fill="#fff" stroke="#111" stroke-width="1.5"/>
<polygon points="214.50,674.56 218.33,681.55 210.67,681.55" fill="#fff" stroke="#111" stroke-width="1.5"/>
<polygon points="215.20,678.66 219.03,685.65 211.37,685.65" fill="#fff" stroke="#111" stroke-width="1.5"/>
<polygon points="209.70,680.66 213.53,687.65 205.87,687.65" fill="#fff" stroke="#111" stroke-width="1.5"/>
<polygon points="204.30,686.76 208.13,693.75 200.47,693.75" fill="#fff" stroke="#111" stroke-width="1.5"/>
<polygon points="215.20,689.56 219.03,696.55 211.37,696.55" fill="#fff" stroke="#111" stroke-width="1.5"/>
<polygon points="209.70,690.26 213.53,697.25 205.87,697.25" fill="#fff" stroke="#111" stroke-width="1.5"/>
<polygon points="204.30,690.86 208.13,697.85 200.47,697.85" fill="#fff" stroke="#111" stroke-width="1.5"/>
<polygon points="209.70,692.96 213.53,699.95 205.87,699.95" fill="#fff" stroke="#111" stroke-width="1.5"/>
<polygon points="209.70,704.26 213.53,711.25 205.87,711.25" fill="#fff" stroke="#111" stroke-width="1.5"/>
<line x1="194.00" y1="660.70" x2="225.40" y2="660.70" stroke="#111" stroke-width="2.5" />
<polygon points="239.40,611.65 244.50,620.15 234.30,620.15" fill="#111"/>
<polygon points="239.40,625.65 244.50,634.15 234.30,634.15" fill="#111"/>
<polygon points="233.70,631.85 238.80,640.35 228.60,640.35" fill="#111"/>
<polygon points="239.10,634.25 244.20,642.75 234.00,642.75" fill="#111"/>
<polygon points="239.10,645.85 244.20,654.35 234.00,654.35" fill="#111"/>
<polygon points="245.30,645.85 250.40,654.35 240.20,654.35" fill="#111"/>
<polygon points="233.70,668.45 238.80,676.95 228.60,676.95" fill="#111"/>
<polygon points="239.40,669.95 244.50,678.45 234.30,678.45" fill="#111"/>
<polygon points="233.70,674.65 238.80,683.15 228.60,683.15" fill="#111"/>
<polygon points="239.40,676.25 244.50,684.75 234.30,684.75" fill="#111"/>
<polygon points="245.30,680.15 250.40,688.65 240.20,688.65" fill="#111"/>
<polygon points="233.70,681.65 238.80,690.15 228.60,690.15" fill="#111"/>
<polygon points="239.40,683.25 244.50,691.75 234.30,691.75" fill="#111"/>
<polygon points="245.30,685.55 250.40,694.05 240.20,694.05" fill="#111"/>
<polygon points="233.70,688.65 238.80,697.15 228.60,697.15" fill="#111"/>
<polygon points="239.40,690.25 244.50,698.75 234.30,698.75" fill="#111"/>
<polygon points="233.70,695.65 238.80,704.15 228.60,704.15" fill="#111"/>
<polygon points="239.40,694.85 244.50,703.35 234.30,703.35" fill="#111"/>
<polygon points="245.30,696.45 250.40,704.95 240.20,704.95" fill="#111"/>
<polygon points="239.40,700.35 244.50,708.85 234.30,708.85" fill="#111"/>
<line x1="223.60" y1="673.10" x2="255.40" y2="673.10" stroke="#111" stroke-width="2.5" />
<text transform="translate(34.71,741.55) scale(1.0000,1)" font-size="22.5" font-weight="normal" stroke="#111" stroke-width="0.3">His:</text>
<line x1="85.80" y1="737.10" x2="99.00" y2="737.10" stroke="#111" stroke-width="2.3" />
<line x1="146.70" y1="737.10" x2="159.90" y2="737.10" stroke="#111" stroke-width="2.3" />
<line x1="204.00" y1="737.10" x2="217.20" y2="737.10" stroke="#111" stroke-width="2.3" />
<line x1="115.85" y1="735.20" x2="126.85" y2="735.20" stroke="#111" stroke-width="2.3" />
<line x1="121.35" y1="729.70" x2="121.35" y2="740.70" stroke="#111" stroke-width="2.3" />
<line x1="176.30" y1="735.20" x2="187.30" y2="735.20" stroke="#111" stroke-width="2.3" />
<line x1="181.80" y1="729.70" x2="181.80" y2="740.70" stroke="#111" stroke-width="2.3" />
<line x1="234.60" y1="735.20" x2="245.60" y2="735.20" stroke="#111" stroke-width="2.3" />
<line x1="240.10" y1="729.70" x2="240.10" y2="740.70" stroke="#111" stroke-width="2.3" />
<line x1="79.40" y1="746.30" x2="130.20" y2="746.30" stroke="#111" stroke-width="2.4" />
<line x1="139.90" y1="746.30" x2="191.00" y2="746.30" stroke="#111" stroke-width="2.4" />
<line x1="200.10" y1="746.30" x2="251.00" y2="746.30" stroke="#111" stroke-width="2.4" />
<text transform="translate(79.64,768.66) scale(1.0000,1)" font-size="22.5" font-weight="normal" stroke="#111" stroke-width="0.3">GFP</text>
<text transform="translate(132.80,768.35) scale(1.0000,1)" font-size="22.5" font-weight="normal" stroke="#111" stroke-width="0.3">dnArf6</text>
<text transform="translate(205.86,768.35) scale(1.0000,1)" font-size="22.5" font-weight="normal" stroke="#111" stroke-width="0.3">Arf6</text>
</g></svg>
</body></html>
